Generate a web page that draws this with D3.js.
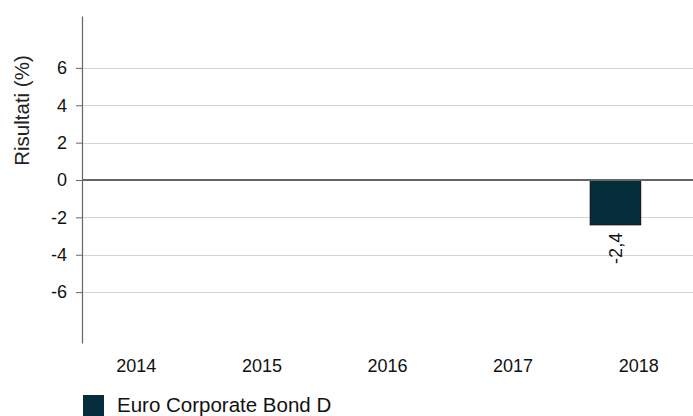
<!DOCTYPE html>
<html>
<head>
<meta charset="utf-8">
<script src="https://cdn.jsdelivr.net/npm/d3@7"></script>
<style>
  html, body { margin: 0; padding: 0; background: #fff; }
  svg { display: block; font-family: "Liberation Sans", Arial, sans-serif; }
</style>
</head>
<body>
<svg id="chart" width="693" height="416"></svg>
<script>
const categories = ["2014", "2015", "2016", "2017", "2018"];
const seriesNames = ["Euro Corporate Bond D", "benchmark"];
const fundValues = [null, null, null, null, -2.4];
const valueLabels = [null, null, null, null, "-2,4"];
const yTicks = [-6, -4, -2, 0, 2, 4, 6];
const yTickLabels = ["-6", "-4", "-2", "0", "2", "4", "6"];
const yTitle = "Risultati (%)";

const svg = d3.select("#chart");
const W = 693;
const axisX = 82;

const y = d3.scaleLinear().domain([-8.75, 8.75]).range([343.5, 16.5]);
const x = d3.scaleBand().domain(categories).range([73.5, 701.5]).padding(0);
const bw = x.bandwidth();
const x1 = d3.scaleBand().domain(seriesNames).range([bw / 2 - 48.5, bw / 2 + 52.5]).padding(0);

// grid lines
svg.append("g").selectAll("line").data(yTicks.filter(d => d !== 0)).join("line")
  .attr("x1", axisX).attr("x2", W)
  .attr("y1", d => Math.round(y(d)) + 0.5).attr("y2", d => Math.round(y(d)) + 0.5)
  .attr("stroke", "#d4d4d4").attr("stroke-width", 1);

// y axis
const yAxis = d3.axisLeft(y).tickValues(yTicks).tickSize(6).tickPadding(9)
  .tickFormat((d, i) => yTickLabels[i]);
const gy = svg.append("g").attr("transform", `translate(${axisX},0)`).call(yAxis);
gy.select(".domain").remove();
gy.selectAll(".tick line").attr("stroke", "#666");
gy.selectAll(".tick text").attr("font-size", 18).attr("fill", "#111")
  .attr("font-family", "Liberation Sans, Arial, sans-serif");
svg.append("line").attr("x1", axisX + 0.5).attr("x2", axisX + 0.5)
  .attr("y1", y.range()[1]).attr("y2", y.range()[0])
  .attr("stroke", "#666").attr("stroke-width", 1.2);

// bars
const barData = categories.map((c, i) => ({ c, v: fundValues[i], label: valueLabels[i] })).filter(d => d.v != null);
svg.append("g").selectAll("rect").data(barData).join("rect")
  .attr("x", d => x(d.c) + x1(seriesNames[0]))
  .attr("width", x1.bandwidth())
  .attr("y", d => y(Math.max(0, d.v)))
  .attr("height", d => Math.abs(y(d.v) - y(0)))
  .attr("fill", "#062d3b").attr("stroke", "#0a0a0a").attr("stroke-width", 1);

// zero line
svg.append("line").attr("x1", axisX).attr("x2", W)
  .attr("y1", y(0)).attr("y2", y(0))
  .attr("stroke", "#666").attr("stroke-width", 2);

// value labels
svg.append("g").selectAll("text").data(barData).join("text")
  .attr("transform", d => `translate(${x(d.c) + x1(seriesNames[0]) + x1.bandwidth() / 2 + 6.5},${y(d.v) + 8}) rotate(-90)`)
  .attr("text-anchor", "end")
  .attr("font-size", 18).attr("fill", "#111")
  .text(d => d.label);

// x labels
const xAxis = d3.axisBottom(x).tickSize(0).tickPadding(0);
const gx = svg.append("g").attr("transform", `translate(0,${356})`).call(xAxis);
gx.select(".domain").remove();
gx.selectAll(".tick text").attr("font-size", 18).attr("fill", "#111")
  .attr("font-family", "Liberation Sans, Arial, sans-serif").attr("dy", "0.9em");

// y title
svg.append("text")
  .attr("transform", `translate(29,110.5) rotate(-90)`)
  .attr("text-anchor", "middle")
  .attr("font-size", 20.5).attr("fill", "#222")
  .text(yTitle);

// legend
const lg = svg.append("g").attr("transform", "translate(83,395)");
lg.append("rect").attr("width", 21).attr("height", 21).attr("fill", "#062d3b");
lg.append("text").attr("x", 34).attr("y", 16.5).attr("font-size", 20.5).attr("fill", "#111")
  .text(seriesNames[0]);
</script>
</body>
</html>
